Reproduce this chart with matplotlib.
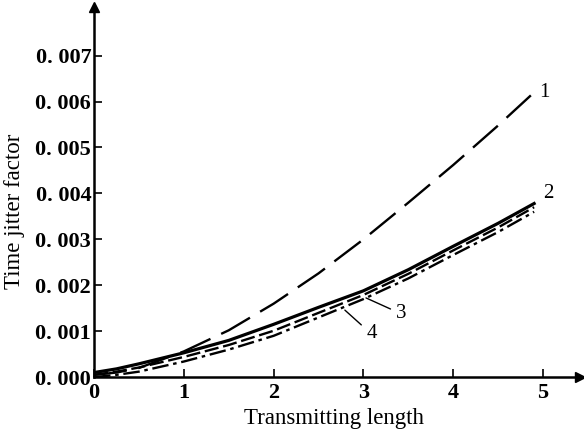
import matplotlib.pyplot as plt

# Values
length = [0, 0.25, 0.5, 1, 1.5, 2, 2.5, 3, 3.5, 4, 4.5, 4.9]
curve1 = [0.00005, 0.0001, 0.0002, 0.00056, 0.00102, 0.0016, 0.00226, 0.003, 0.0038, 0.00462, 0.00548, 0.0062]
curve2 = [0.0001, 0.00018, 0.00029, 0.00053, 0.0008, 0.00115, 0.00152, 0.00188, 0.00234, 0.00285, 0.00335, 0.00378]
curve3 = [0.00005, 0.00012, 0.00021, 0.00044, 0.0007, 0.00101, 0.0014, 0.00179, 0.00225, 0.00276, 0.00326, 0.0037]
curve4 = [0.0, 0.00005, 0.00012, 0.00034, 0.0006, 0.0009, 0.0013, 0.0017, 0.00215, 0.00266, 0.00316, 0.0036]

xticks = [0, 1, 2, 3, 4, 5]
yticks = [0, 0.001, 0.002, 0.003, 0.004, 0.005, 0.006, 0.007]
ytick_labels = ['0. 000', '0. 001', '0. 002', '0. 003', '0. 004', '0. 005', '0. 006', '0. 007']

plt.rcParams['font.family'] = ['Liberation Serif', 'DejaVu Serif']

fig = plt.figure(figsize=(5.84, 4.34), dpi=100)
ax = fig.add_axes([0.161, 0.131, 0.832, 0.853])

# the four curves
ax.plot(length, curve1, color='black', lw=1.7, dashes=(14, 5))
ax.plot(length, curve2, color='black', lw=2.3)
ax.plot(length, curve3, color='black', lw=1.7, dashes=(6, 2))
ax.plot(length, curve4, color='black', lw=1.7, dashes=(7, 2, 1.5, 2))

# curve numbers with leader lines
ax.text(4.96, 0.0062, '1', fontsize=15, va='center')
ax.text(5.0, 0.0040, '2', fontsize=15, va='center')
ax.annotate('3', xy=(3.0, 0.00175), xytext=(3.36, 0.00138), fontsize=15,
            va='center', arrowprops=dict(arrowstyle='-', color='black', lw=1.0))
ax.annotate('4', xy=(2.77, 0.0015), xytext=(3.03, 0.00094), fontsize=15,
            va='center', arrowprops=dict(arrowstyle='-', color='black', lw=1.0))

ax.set_xlim(0, 5.41)
ax.set_ylim(0, 0.00806)
ax.set_xticks(xticks)
ax.set_yticks(yticks)
ax.set_yticklabels(ytick_labels)
ax.tick_params(direction='in', length=6, width=1.2, labelsize=16)
ax.tick_params(axis='y', pad=2)
ax.tick_params(axis='x', pad=4)
for lab in ax.get_xticklabels() + ax.get_yticklabels():
    lab.set_fontweight('bold')

ax.spines['top'].set_visible(False)
ax.spines['right'].set_visible(False)
ax.spines['left'].set_linewidth(1.8)
ax.spines['bottom'].set_linewidth(1.8)

# arrow heads on the axes
ax.plot(1, 0, '>k', ms=7, transform=ax.transAxes, clip_on=False)
ax.plot(0, 1, '^k', ms=7, transform=ax.transAxes, clip_on=False)

ax.set_xlabel('Transmitting length', fontsize=16.5)
ax.set_ylabel('Time jitter factor', fontsize=16.5)
ax.xaxis.set_label_coords(0.494, -0.084)
ax.yaxis.set_label_coords(-0.142, 0.447)

fig.savefig('out.png', dpi=100)
